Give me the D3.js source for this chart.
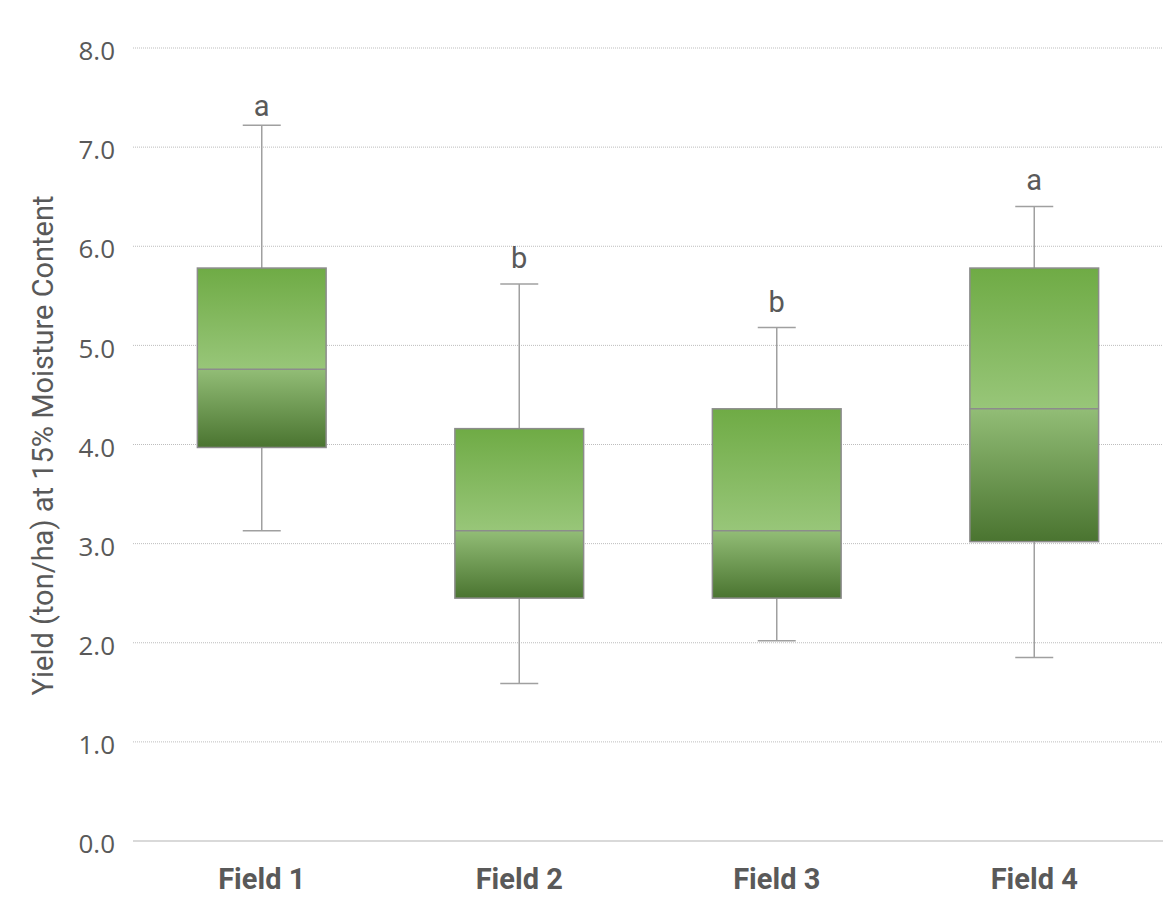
<!DOCTYPE html>
<html>
<head>
<meta charset="utf-8">
<script src="https://cdn.jsdelivr.net/npm/d3@7"></script>
<style>
  body { margin: 0; background: #fff; }
  svg text { fill: #595959; }
</style>
</head>
<body>
<div id="chart"></div>
<script>
// data
var fields = ["Field 1", "Field 2", "Field 3", "Field 4"];
var minVals = [3.13, 1.59, 2.02, 1.85];
var q1Vals = [3.97, 2.45, 2.45, 3.02];
var medVals = [4.76, 3.13, 3.13, 4.36];
var q3Vals = [5.78, 4.16, 4.36, 5.78];
var maxVals = [7.22, 5.62, 5.18, 6.40];
var letters = ["a", "b", "b", "a"];
var letterY = [7.31, 5.78, 5.34, 6.57];
var yTicks = [0, 1, 2, 3, 4, 5, 6, 7, 8];

var width = 1166, height = 904;
var margin = {top: 48, right: 3, bottom: 63, left: 133};

var svg = d3.select("#chart").append("svg")
    .attr("width", width)
    .attr("height", height);

var x = d3.scaleBand()
    .domain(fields)
    .range([margin.left, width - margin.right]);

var y = d3.scaleLinear()
    .domain([0, 8])
    .range([height - margin.bottom, margin.top]);

// gradients, upper half and lower half of each box
var defs = svg.append("defs");
var gUp = defs.append("linearGradient").attr("id", "gUp")
    .attr("x1", 0).attr("y1", 0).attr("x2", 0).attr("y2", 1);
gUp.append("stop").attr("offset", "0%").attr("stop-color", "#6fab45");
gUp.append("stop").attr("offset", "100%").attr("stop-color", "#98c679");
var gLow = defs.append("linearGradient").attr("id", "gLow")
    .attr("x1", 0).attr("y1", 0).attr("x2", 0).attr("y2", 1);
gLow.append("stop").attr("offset", "0%").attr("stop-color", "#92bd76");
gLow.append("stop").attr("offset", "100%").attr("stop-color", "#4a7430");

// grid
svg.append("g")
  .selectAll("line")
  .data(yTicks.filter(function(d){ return d > 0; }))
  .enter().append("line")
    .attr("x1", margin.left)
    .attr("x2", width - margin.right)
    .attr("y1", function(d){ return y(d); })
    .attr("y2", function(d){ return y(d); })
    .style("stroke", "#bdbdbd")
    .style("stroke-width", 1)
    .style("stroke-dasharray", "1,1");

// baseline
svg.append("line")
    .attr("x1", margin.left)
    .attr("x2", width - margin.right)
    .attr("y1", y(0))
    .attr("y2", y(0))
    .style("stroke", "#d9d9d9")
    .style("stroke-width", 2);

// y tick labels
var yAxis = svg.append("g")
    .attr("transform", "translate(" + (margin.left - 18) + ",0)")
    .call(d3.axisLeft(y).tickValues(yTicks).tickFormat(d3.format(".1f")).tickSize(0));
yAxis.select(".domain").remove();
yAxis.selectAll("text")
    .attr("x", 0)
    .attr("dy", "0.45em")
    .style("font-family", "'Open Sans', 'DejaVu Sans', sans-serif")
    .style("font-size", "26px")
    .style("fill", "#595959");

// x labels
var xAxis = svg.append("g")
    .attr("transform", "translate(0," + y(0) + ")")
    .call(d3.axisBottom(x).tickSize(0));
xAxis.select(".domain").remove();
xAxis.selectAll("text")
    .attr("y", 48)
    .attr("dy", 0)
    .style("font-family", "Roboto, sans-serif")
    .style("font-weight", "bold")
    .style("font-size", "29px")
    .style("fill", "#595959");

// y axis title
svg.append("text")
    .attr("transform", "translate(53," + (y(4) + 1) + ") rotate(-90)")
    .attr("text-anchor", "middle")
    .style("font-family", "Roboto, sans-serif")
    .style("font-size", "29px")
    .text("Yield (ton/ha) at 15% Moisture Content");

// boxes
var boxW = x.bandwidth() * 0.5;
var capW = 38;
var boxes = svg.append("g").selectAll("g")
    .data(fields)
    .enter().append("g");

boxes.each(function(f, i){
  var g = d3.select(this);
  var cx = x(f) + x.bandwidth() / 2;

  // whiskers
  g.append("line")
      .attr("x1", cx).attr("x2", cx)
      .attr("y1", y(maxVals[i])).attr("y2", y(q3Vals[i]))
      .style("stroke", "#a0a0a0").style("stroke-width", 1.5);
  g.append("line")
      .attr("x1", cx).attr("x2", cx)
      .attr("y1", y(q1Vals[i])).attr("y2", y(minVals[i]))
      .style("stroke", "#a0a0a0").style("stroke-width", 1.5);
  [maxVals[i], minVals[i]].forEach(function(v){
    g.append("line")
        .attr("x1", cx - capW / 2).attr("x2", cx + capW / 2)
        .attr("y1", y(v)).attr("y2", y(v))
        .style("stroke", "#a0a0a0").style("stroke-width", 1.5);
  });

  // upper half
  g.append("rect")
      .attr("x", cx - boxW / 2)
      .attr("y", y(q3Vals[i]))
      .attr("width", boxW)
      .attr("height", y(medVals[i]) - y(q3Vals[i]))
      .style("fill", "url(#gUp)");
  // lower half
  g.append("rect")
      .attr("x", cx - boxW / 2)
      .attr("y", y(medVals[i]))
      .attr("width", boxW)
      .attr("height", y(q1Vals[i]) - y(medVals[i]))
      .style("fill", "url(#gLow)");
  // outline
  g.append("rect")
      .attr("x", cx - boxW / 2)
      .attr("y", y(q3Vals[i]))
      .attr("width", boxW)
      .attr("height", y(q1Vals[i]) - y(q3Vals[i]))
      .style("fill", "none")
      .style("stroke", "#8c8c8c")
      .style("stroke-width", 1.5);
  // median
  g.append("line")
      .attr("x1", cx - boxW / 2).attr("x2", cx + boxW / 2)
      .attr("y1", y(medVals[i])).attr("y2", y(medVals[i]))
      .style("stroke", "#8c8c8c").style("stroke-width", 1.5);

  // letter
  g.append("text")
      .attr("x", cx)
      .attr("y", y(letterY[i]))
      .attr("text-anchor", "middle")
      .style("font-family", "Roboto, sans-serif")
      .style("font-size", "29px")
      .text(letters[i]);
});
</script>
</body>
</html>
